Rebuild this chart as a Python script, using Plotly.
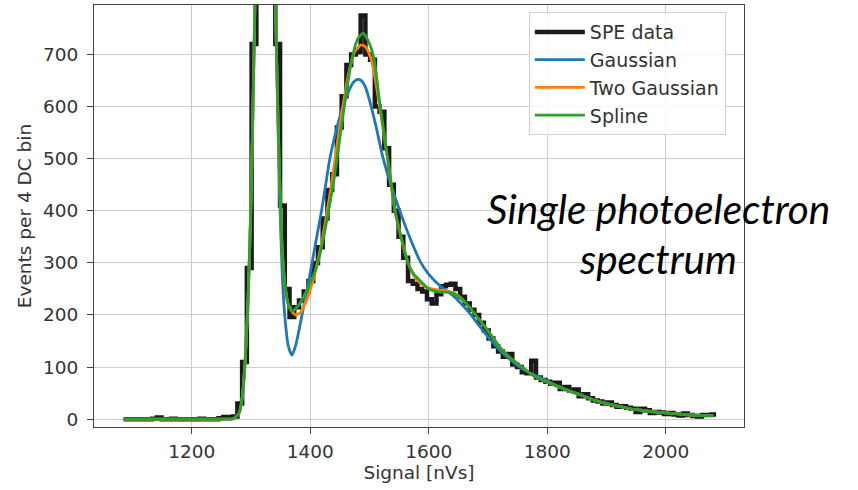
import plotly.graph_objects as go

# ---------------- data ----------------
bin_start = 1085.0
bin_width = 8.0
spe_counts = [
    0, 0, 0, 0, 0, 0, 1, 3, 0, 0,
    1, 0, 0, 0, 0, 0, 1, 0, 0, 0,
    2, 4, 3, 5, 30, 110, 290, 720, 1800, 2600,
    2400, 1500, 720, 410, 250, 196, 215, 228, 245, 265,
    300, 330, 385, 440, 470, 560, 620, 680, 700, 705,
    775, 700, 690, 600, 590, 520, 450, 400, 350, 310,
    265, 260, 250, 245, 230, 222, 240, 255, 258, 260,
    250, 235, 222, 210, 200, 185, 170, 155, 140, 130,
    120, 125, 105, 100, 90, 88, 112, 80, 75, 72,
    68, 70, 58, 62, 55, 57, 44, 48, 40, 36,
    34, 30, 32, 27, 24, 25, 22, 20, 14, 20,
    17, 12, 14, 13, 10, 12, 9, 7, 11, 8,
    6, 5, 8, 8, 9,
]

gauss_x = [1085, 1150, 1200, 1250, 1270, 1280, 1285, 1290, 1295, 1300, 1305, 1310, 1320, 1330, 1338,
           1343, 1348, 1353, 1358, 1363, 1369, 1375, 1380, 1386, 1395, 1403, 1411, 1419, 1426, 1433,
           1444, 1455, 1467, 1474, 1480, 1486, 1493, 1500, 1511, 1522, 1536, 1551, 1560, 1570, 1585,
           1600, 1620, 1640, 1652, 1670, 1686, 1700, 1720, 1740, 1753, 1770, 1792, 1820, 1840, 1860,
           1880, 1900, 1920, 1940, 1960, 1980, 2000, 2020, 2040, 2060, 2080]
gauss_y = [0, 0, 0, 0, 1, 12, 40, 110, 230, 420, 700, 1000, 1400, 1400, 1000,
           700, 440, 270, 185, 140, 123, 140, 165, 200, 250, 300, 350, 400, 450, 500,
           555, 600, 635, 648, 652, 650, 638, 612, 562, 505, 450, 400, 372, 343, 304,
           278, 255, 238, 225, 202, 178, 158, 132, 112, 100, 89, 78, 62, 53, 45,
           36, 30, 25, 20, 17, 14, 12, 10, 8, 7, 7]

two_gauss_x = [1085, 1150, 1200, 1250, 1270, 1280, 1285, 1290, 1295, 1300, 1305, 1310, 1320, 1330, 1338,
               1343, 1348, 1353, 1358, 1363, 1369, 1376, 1385, 1395, 1405, 1415, 1425, 1435, 1445, 1455,
               1465, 1475, 1485, 1492, 1500, 1507, 1517, 1525, 1531, 1543, 1555, 1565, 1575, 1585, 1595,
               1605, 1615, 1625, 1635, 1645, 1655, 1669, 1686, 1703, 1720, 1736, 1753, 1776, 1792, 1820,
               1840, 1860, 1880, 1900, 1920, 1940, 1960, 1980, 2000, 2020, 2040, 2060, 2080]
two_gauss_y = [0, 0, 0, 0, 1, 12, 40, 110, 230, 420, 700, 1000, 1400, 1400, 1000,
               700, 470, 320, 250, 220, 207, 200, 207, 232, 268, 315, 375, 445, 525, 600,
               665, 705, 718, 716, 700, 670, 600, 540, 495, 400, 340, 300, 275, 262, 254,
               250, 248, 247, 245, 241, 232, 214, 190, 165, 138, 119, 104, 84, 75, 62,
               53, 45, 36, 30, 25, 20, 17, 14, 12, 10, 8, 7, 7]

spline_x = [1085, 1150, 1200, 1250, 1270, 1280, 1285, 1290, 1295, 1300, 1305, 1310, 1320, 1330, 1338,
            1343, 1348, 1353, 1358, 1363, 1369, 1380, 1390, 1400, 1410, 1420, 1430, 1440, 1450, 1460,
            1470, 1480, 1489, 1497, 1507, 1517, 1525, 1531, 1543, 1550, 1565, 1575, 1585, 1600, 1610,
            1620, 1630, 1640, 1652, 1669, 1686, 1703, 1720, 1736, 1753, 1776, 1792, 1820, 1840, 1860,
            1880, 1900, 1920, 1940, 1960, 1980, 2000, 2020, 2040, 2060, 2080]
spline_y = [0, 0, 0, 0, 1, 12, 40, 110, 230, 420, 700, 1000, 1400, 1400, 1000,
            700, 480, 320, 250, 220, 207, 218, 238, 262, 290, 335, 395, 460, 540, 620,
            690, 730, 741, 728, 695, 610, 545, 500, 400, 365, 300, 278, 266, 250, 246,
            244, 244, 242, 234, 215, 190, 165, 138, 119, 104, 84, 75, 62, 53, 45,
            36, 30, 25, 20, 17, 14, 12, 10, 8, 7, 7]

x_ticks = [1200, 1400, 1600, 1800, 2000]
y_ticks = [0, 100, 200, 300, 400, 500, 600, 700]

# ---------------- figure ----------------
edges = [bin_start + bin_width * i for i in range(len(spe_counts) + 1)]
spe_y = spe_counts + [spe_counts[-1]]

fig = go.Figure()
fig.add_trace(go.Scatter(x=edges, y=spe_y, mode="lines", line=dict(color="#1a1a1a", width=4.5, shape="hv"),
                         name="SPE data", legendgroup="a"))
fig.add_trace(go.Scatter(x=gauss_x, y=gauss_y, mode="lines",
                         line=dict(color="#1f77b4", width=2.8, shape="spline", smoothing=0.6),
                         name="Gaussian", legendgroup="b"))
fig.add_trace(go.Scatter(x=two_gauss_x, y=two_gauss_y, mode="lines",
                         line=dict(color="#ff7f0e", width=2.8, shape="spline", smoothing=0.6),
                         name="Two Gaussian", legendgroup="c"))
fig.add_trace(go.Scatter(x=spline_x, y=spline_y, mode="lines",
                         line=dict(color="#2ca02c", width=2.8, shape="spline", smoothing=0.6),
                         name="Spline", legendgroup="d"))

axis_common = dict(showgrid=True, gridcolor="#cccccc", gridwidth=1, zeroline=False,
                   showline=True, linecolor="#444444", linewidth=1.2, mirror=True,
                   ticks="outside", ticklen=6, tickcolor="#444444",
                   tickfont=dict(family="DejaVu Sans", size=18.5, color="#333333"))

fig.update_layout(
    width=858, height=490,
    margin=dict(l=94, r=114, t=5, b=63),
    paper_bgcolor="white", plot_bgcolor="white",
    font=dict(family="DejaVu Sans", color="#333333"),
    xaxis=dict(range=[1035, 2132], tickvals=x_ticks, ticklabelstandoff=2,
               title=dict(text="Signal [nVs]", font=dict(size=18.5), standoff=3), **axis_common),
    yaxis=dict(range=[-15, 795], tickvals=y_ticks, ticklabelstandoff=5,
               title=dict(text="Events per 4 DC bin", font=dict(size=18.5), standoff=6), **axis_common),
    legend=dict(x=0.669, y=0.983, xanchor="left", yanchor="top", bgcolor="rgba(255,255,255,0.85)",
                bordercolor="#d0d0d0", borderwidth=1, font=dict(family="DejaVu Sans", size=19, color="#333333"),
                tracegroupgap=0, itemwidth=50),
    showlegend=True,
)

fig.add_annotation(text="<i>Single photoelectron</i>", xref="paper", yref="paper",
                   x=(658 - 94) / 650, y=(427 - 208) / 422, xanchor="center", yanchor="middle",
                   showarrow=False, font=dict(family="Lato", size=40.5, color="black"))
fig.add_annotation(text="<i>spectrum</i>", xref="paper", yref="paper",
                   x=(658 - 94) / 650, y=(427 - 258) / 422, xanchor="center", yanchor="middle",
                   showarrow=False, font=dict(family="Lato", size=40.5, color="black"))

fig.write_html("out.html")
